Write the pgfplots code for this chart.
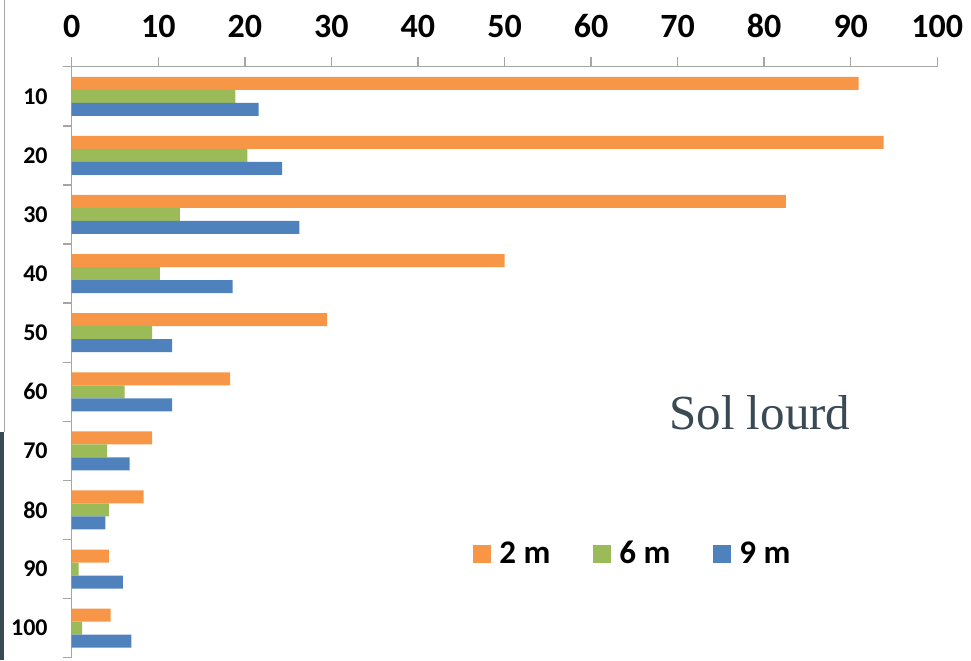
\documentclass[border=0pt]{standalone}
\usepackage{fontspec}
\setmainfont{Carlito}
\newfontfamily\solfont{Liberation Serif}
\usepackage{pgfplots}
\usepackage{pgfplotstable}
\pgfplotsset{compat=1.18}
\definecolor{corange}{HTML}{F79646}
\definecolor{cgreen}{HTML}{9BBB59}
\definecolor{cblue}{HTML}{4F81BD}
\definecolor{axgray}{HTML}{A6A6A6}
\definecolor{slate}{HTML}{3A4A55}
\pgfplotstableread{
y o g b
1 90.9 18.9 21.6
2 93.8 20.3 24.3
3 82.5 12.5 26.3
4 50.0 10.2 18.6
5 29.5 9.3 11.6
6 18.3 6.1 11.6
7 9.3 4.1 6.7
8 8.3 4.3 3.9
9 4.3 0.8 5.9
10 4.5 1.2 6.9
}\data
\begin{document}
\begin{tikzpicture}
\useasboundingbox (-35.85pt,-1.15pt) rectangle (449.65pt,328.85pt);
\fill[slate] (-35.85pt,-1.15pt) rectangle (-33.85pt,113pt);
\draw[axgray, line width=0.5pt] (-33.7pt,113pt) -- (-33.7pt,328.85pt);
\begin{axis}[
  scale only axis, width=432.8pt, height=295.5pt,
  xmin=0, xmax=100, ymin=0.5, ymax=10.5, y dir=reverse,
  axis x line*=top, axis y line*=left,
  axis line style={axgray, line width=0.7pt},
  tick style={axgray, line width=0.7pt},
  xtick={0,10,...,100},
  ytick={1,...,10}, yticklabels={10,20,30,40,50,60,70,80,90,100},
  minor ytick={0.5,1.5,...,10.5},
  major y tick style={draw=none},
  tick align=outside,
  major tick length=4.7pt, minor tick length=4.2pt,
  /pgf/number format/assume math mode=true,
  xticklabel style={font=\fontsize{17pt}{17pt}\selectfont\bfseries, anchor=south, inner sep=0pt, yshift=9.65pt},
  yticklabel style={font=\fontsize{12pt}{12pt}\selectfont\bfseries, anchor=east, inner sep=0pt, xshift=-7.15pt},
  xbar, bar width=6.5pt,
  legend style={draw=none, fill=none, at={(0.4636,0.1755)}, anchor=west,
    legend columns=3, inner sep=0pt,
    font=\fontsize{16.5pt}{17pt}\selectfont\bfseries,
    /tikz/every odd column/.append style={column sep=2pt},
    /tikz/every even column/.append style={column sep=19.5pt}},
  legend image code/.code={\fill[#1] (0pt,-4.5pt) rectangle (9pt,4.5pt);},
]
\addplot[fill=corange, draw=none, bar shift=6.5pt] table[x=o,y=y]{\data};
\addplot[fill=cgreen, draw=none, bar shift=0pt] table[x=g,y=y]{\data};
\addplot[fill=cblue, draw=none, bar shift=-6.5pt] table[x=b,y=y]{\data};
\legend{2 m,6 m,9 m}
\node[anchor=base west, inner sep=0pt, text=slate, font=\solfont\fontsize{24.5pt}{25pt}\selectfont] at (axis description cs:0.690,0.3853) {Sol lourd};
\end{axis}
\end{tikzpicture}
\end{document}
